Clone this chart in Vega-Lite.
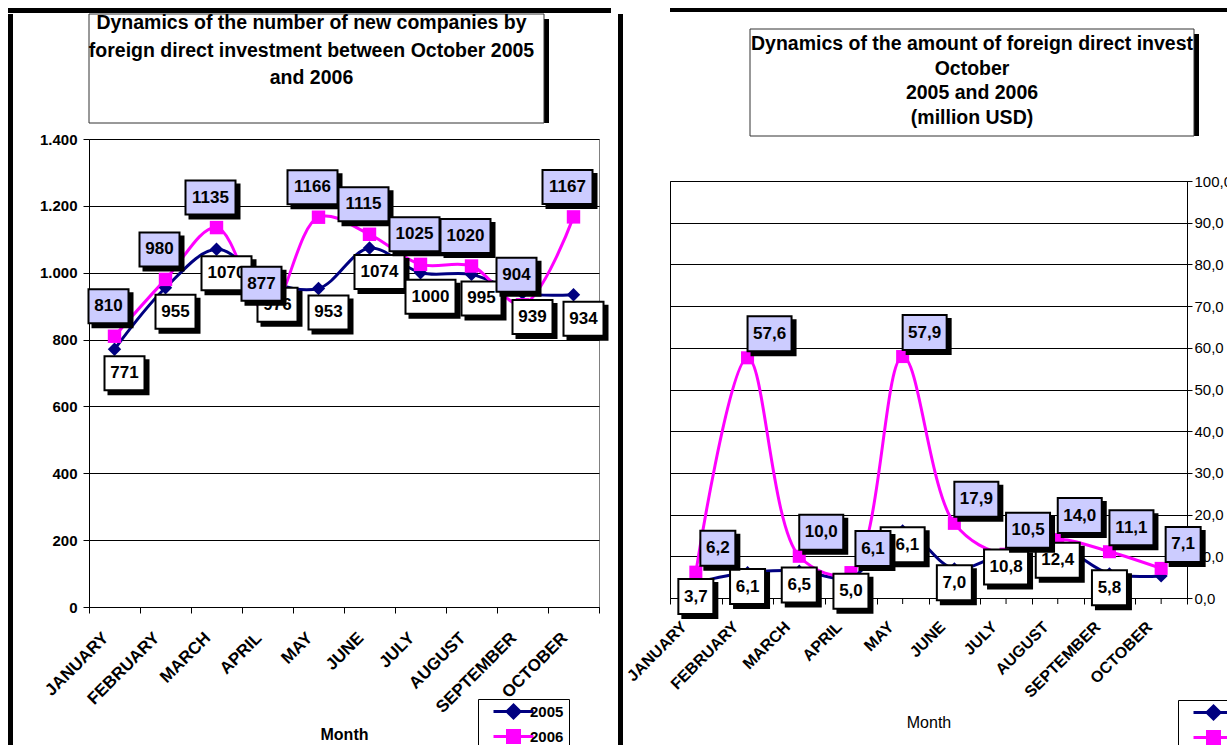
{
  "$schema": "https://vega.github.io/schema/vega-lite/v6.json",
  "padding": {"left": 8, "top": 8, "right": 0, "bottom": 0},
  "background": "white",
  "datasets": {
    "companies": [
      {"month": "JANUARY", "year": "2005", "value": 771},
      {"month": "FEBRUARY", "year": "2005", "value": 955},
      {"month": "MARCH", "year": "2005", "value": 1070},
      {"month": "APRIL", "year": "2005", "value": 976},
      {"month": "MAY", "year": "2005", "value": 953},
      {"month": "JUNE", "year": "2005", "value": 1074},
      {"month": "JULY", "year": "2005", "value": 1000},
      {"month": "AUGUST", "year": "2005", "value": 995},
      {"month": "SEPTEMBER", "year": "2005", "value": 939},
      {"month": "OCTOBER", "year": "2005", "value": 934},
      {"month": "JANUARY", "year": "2006", "value": 810},
      {"month": "FEBRUARY", "year": "2006", "value": 980},
      {"month": "MARCH", "year": "2006", "value": 1135},
      {"month": "APRIL", "year": "2006", "value": 877},
      {"month": "MAY", "year": "2006", "value": 1166},
      {"month": "JUNE", "year": "2006", "value": 1115},
      {"month": "JULY", "year": "2006", "value": 1025},
      {"month": "AUGUST", "year": "2006", "value": 1020},
      {"month": "SEPTEMBER", "year": "2006", "value": 904},
      {"month": "OCTOBER", "year": "2006", "value": 1167}
    ],
    "investment": [
      {"month": "JANUARY", "year": "2005", "value": 3.7},
      {"month": "FEBRUARY", "year": "2005", "value": 6.1},
      {"month": "MARCH", "year": "2005", "value": 6.5},
      {"month": "APRIL", "year": "2005", "value": 5.0},
      {"month": "MAY", "year": "2005", "value": 16.1},
      {"month": "JUNE", "year": "2005", "value": 7.0},
      {"month": "JULY", "year": "2005", "value": 10.8},
      {"month": "AUGUST", "year": "2005", "value": 12.4},
      {"month": "SEPTEMBER", "year": "2005", "value": 5.8},
      {"month": "OCTOBER", "year": "2005", "value": 5.3},
      {"month": "JANUARY", "year": "2006", "value": 6.2},
      {"month": "FEBRUARY", "year": "2006", "value": 57.6},
      {"month": "MARCH", "year": "2006", "value": 10.0},
      {"month": "APRIL", "year": "2006", "value": 6.1},
      {"month": "MAY", "year": "2006", "value": 57.9},
      {"month": "JUNE", "year": "2006", "value": 17.9},
      {"month": "JULY", "year": "2006", "value": 10.5},
      {"month": "AUGUST", "year": "2006", "value": 14.0},
      {"month": "SEPTEMBER", "year": "2006", "value": 11.1},
      {"month": "OCTOBER", "year": "2006", "value": 7.1}
    ]
  },
  "config": {
    "font": "Liberation Sans",
    "view": {"stroke": null},
    "locale": {"number": {"decimal": ",", "thousands": ".", "grouping": [3], "currency": ["", ""]}},
    "axis": {"labelColor": "black", "titleColor": "black", "domainColor": "black", "tickColor": "black", "gridColor": "black", "gridOpacity": 1, "labelFont": "Liberation Sans", "titleFont": "Liberation Sans"},
    "legend": {"labelFont": "Liberation Sans", "labelColor": "black"}
  },
  "spacing": 0,
  "hconcat": [
    {
      "spacing": 0,
      "vconcat": [
        {"width": 603, "height": 5, "data": {"values": [{}]}, "mark": {"type": "rect", "color": "black"}, "encoding": {}},
        {
          "spacing": 25,
          "hconcat": [
            {"width": 5, "height": 740, "data": {"values": [{}]}, "mark": {"type": "rect", "color": "black"}, "encoding": {}},
            {
              "spacing": 6,
              "hconcat": [
                {
                  "spacing": 7,
                  "resolve": {"scale": {"color": "independent"}, "legend": {"color": "independent"}},
                  "vconcat": [
                    {
                      "width": 465, "height": 109,
                      "data": {"values": [{}]},
                      "layer": [
                        {"mark": {"type": "rect", "color": "black", "xOffset": -5, "x2Offset": -5, "yOffset": 5, "y2Offset": 5}, "encoding": {}},
                        {"mark": {"type": "rect", "fill": "white", "stroke": "#333333", "strokeWidth": 1, "xOffset": -10, "x2Offset": -10}, "encoding": {}},
                        {"mark": {"type": "text", "text": ["Dynamics of the number of new companies by", "foreign direct investment between October  2005", "and  2006"], "fontSize": 19.5, "fontWeight": "bold", "lineHeight": 27.5, "dy": -45.5, "xOffset": -10, "align": "center", "baseline": "middle", "color": "black"}, "encoding": {}}
                      ]
                    },
                    {
                      "width": 510, "height": 468,
                      "view": {"stroke": "#808080"},
                      "data": {"name": "companies"},
                      "encoding": {
                        "x": {"field": "month", "type": "ordinal", "sort": ["JANUARY", "FEBRUARY", "MARCH", "APRIL", "MAY", "JUNE", "JULY", "AUGUST", "SEPTEMBER", "OCTOBER"], "scale": {"type": "band", "paddingInner": 0, "paddingOuter": 0},
                          "axis": {"title": "Month", "titleFontSize": 16, "titleFontWeight": "bold", "labelAngle": -45, "labelAlign": "right", "labelBaseline": "middle", "labelFontSize": 17, "labelFontWeight": "bold", "tickBand": "extent", "tickSize": 6, "labelPadding": 22, "labelOffset": -9, "titlePadding": 11, "grid": false}},
                        "y": {"field": "value", "type": "quantitative", "scale": {"domain": [0, 1400]},
                          "axis": {"title": null, "values": [0, 200, 400, 600, 800, 1000, 1200, 1400], "format": ",d", "labelFontSize": 15, "labelFontWeight": "bold", "tickSize": 6, "labelPadding": 6, "grid": true}}
                      },
                      "layer": [
                        {"mark": {"type": "line", "interpolate": "catmull-rom", "strokeWidth": 3},
                          "encoding": {"color": {"field": "year", "type": "nominal", "scale": {"domain": ["2005", "2006"], "range": ["#000080", "#FF00FF"]},
                            "legend": {"orient": "none", "legendX": 389, "legendY": 560, "title": null, "direction": "vertical", "columns": 1, "labelFontSize": 15, "labelFontWeight": "bold", "fillColor": "white", "strokeColor": "black", "padding": 5, "symbolSize": 100, "labelOffset": 32, "rowPadding": 0,
                              "encode": {"symbols": {"update": {
                                "shape": {"signal": "datum.value === '2005' ? 'M0.6,0H8.6M4.6,-1.3L5.9,0L4.6,1.3L3.3,0Z' : 'M0.6,0H8.6M3.4,-1.2H5.8V1.2H3.4Z'"},
                                "fill": {"scale": "color", "field": "value"},
                                "stroke": {"scale": "color", "field": "value"},
                                "strokeWidth": {"value": 3},
                                "opacity": {"value": 1}}}}}}}},
                        {"mark": {"type": "point", "filled": true, "opacity": 1, "size": 180},
                          "encoding": {"color": {"field": "year", "type": "nominal"}, "shape": {"condition": {"test": "datum.year === '2005'", "value": "diamond"}, "value": "square"}}},
                        {"transform": [{"filter": "datum.year === '2005'"}],
                          "mark": {"type": "point", "filled": true, "opacity": 1, "size": 100, "fill": "black", "stroke": "black", "strokeWidth": 2, "xOffset": 14, "yOffset": 28},
                          "encoding": {"shape": {"condition": {"test": "datum.value >= 1000", "value": "M-5,-3.4H5V3.4H-5Z"}, "value": "M-4,-3.4H4V3.4H-4Z"}}},
                        {"transform": [{"filter": "datum.year === '2005'"}],
                          "mark": {"type": "point", "filled": true, "opacity": 1, "size": 100, "fill": "white", "stroke": "black", "strokeWidth": 2, "xOffset": 10, "yOffset": 24},
                          "encoding": {"shape": {"condition": {"test": "datum.value >= 1000", "value": "M-5,-3.4H5V3.4H-5Z"}, "value": "M-4,-3.4H4V3.4H-4Z"}}},
                        {"transform": [{"filter": "datum.year === '2005'"}],
                          "mark": {"type": "text", "fontSize": 17, "fontWeight": "bold", "color": "black", "xOffset": 10, "yOffset": 24, "align": "center", "baseline": "middle"},
                          "encoding": {"text": {"field": "value", "type": "quantitative", "format": "d"}}},
                        {"transform": [{"filter": "datum.year === '2006'"}],
                          "mark": {"type": "point", "filled": true, "opacity": 1, "size": 100, "fill": "black", "stroke": "black", "strokeWidth": 2, "xOffset": -2, "yOffset": -26},
                          "encoding": {"shape": {"condition": {"test": "datum.value >= 1000", "value": "M-5,-3.4H5V3.4H-5Z"}, "value": "M-4,-3.4H4V3.4H-4Z"}}},
                        {"transform": [{"filter": "datum.year === '2006'"}],
                          "mark": {"type": "point", "filled": true, "opacity": 1, "size": 100, "fill": "#CCCCFF", "stroke": "black", "strokeWidth": 2, "xOffset": -6, "yOffset": -30},
                          "encoding": {"shape": {"condition": {"test": "datum.value >= 1000", "value": "M-5,-3.4H5V3.4H-5Z"}, "value": "M-4,-3.4H4V3.4H-4Z"}}},
                        {"transform": [{"filter": "datum.year === '2006'"}],
                          "mark": {"type": "text", "fontSize": 17, "fontWeight": "bold", "color": "black", "xOffset": -6, "yOffset": -30, "align": "center", "baseline": "middle"},
                          "encoding": {"text": {"field": "value", "type": "quantitative", "format": "d"}}}
                      ]
                    }
                  ]
                },
                {"width": 5, "height": 740, "data": {"values": [{}]}, "mark": {"type": "rect", "color": "black"}, "encoding": {}}
              ]
            }
          ]
        }
      ]
    },
    {
      "spacing": 16,
      "vconcat": [
        {"width": 620, "height": 4, "data": {"values": [{}]}, "mark": {"type": "rect", "color": "black"}, "encoding": {}},
        {
          "spacing": 36,
          "resolve": {"scale": {"color": "independent"}, "legend": {"color": "independent"}},
          "vconcat": [
            {
              "spacing": 0,
              "hconcat": [
                {"width": 79, "height": 1, "data": {"values": [{}]}, "mark": {"type": "rect", "color": "white", "opacity": 0}, "encoding": {}},
                {
                  "width": 444, "height": 107,
                  "data": {"values": [{}]},
                  "layer": [
                    {"mark": {"type": "rect", "color": "black", "xOffset": 5, "x2Offset": 5, "yOffset": 5, "y2Offset": 5}, "encoding": {}},
                    {"mark": {"type": "rect", "fill": "white", "stroke": "#333333", "strokeWidth": 1}, "encoding": {}},
                    {"mark": {"type": "text", "text": ["Dynamics of the amount of foreign direct invest", "October", "2005 and  2006", "(million USD)"], "fontSize": 19.5, "fontWeight": "bold", "lineHeight": 24.7, "dy": -38.5, "align": "center", "baseline": "middle", "color": "black"}, "encoding": {}}
                  ]
                }
              ]
            },
            {
              "spacing": 0,
              "hconcat": [
                {
                  "width": 517, "height": 417,
                  "view": {"stroke": "black"},
                  "data": {"name": "investment"},
                  "encoding": {
                    "x": {"field": "month", "type": "ordinal", "sort": ["JANUARY", "FEBRUARY", "MARCH", "APRIL", "MAY", "JUNE", "JULY", "AUGUST", "SEPTEMBER", "OCTOBER"], "scale": {"type": "band", "paddingInner": 0, "paddingOuter": 0},
                      "axis": {"title": "Month", "titleFontSize": 16, "titleFontWeight": "normal", "labelAngle": -45, "labelAlign": "right", "labelBaseline": "middle", "labelFontSize": 16, "labelFontWeight": "bold", "tickBand": "extent", "tickSize": 6, "labelPadding": 20, "labelOffset": -12, "titlePadding": 14, "grid": false}},
                    "y": {"field": "value", "type": "quantitative", "scale": {"domain": [0, 100]},
                      "axis": {"orient": "right", "title": null, "values": [0, 10, 20, 30, 40, 50, 60, 70, 80, 90, 100], "format": ".1f", "labelFontSize": 15, "labelFontWeight": "normal", "tickSize": 5, "labelPadding": 2, "grid": true}}
                  },
                  "layer": [
                    {"transform": [{"filter": "datum.year === '2005'"}],
                      "mark": {"type": "tick", "orient": "vertical", "size": 6, "thickness": 1, "color": "black", "opacity": 1, "yOffset": 3},
                      "encoding": {"y": {"datum": 0}}},
                    {"mark": {"type": "line", "interpolate": "catmull-rom", "strokeWidth": 3},
                      "encoding": {"color": {"field": "year", "type": "nominal", "scale": {"domain": ["2005", "2006"], "range": ["#000080", "#FF00FF"]},
                        "legend": {"orient": "none", "legendX": 508, "legendY": 519, "title": null, "direction": "vertical", "columns": 1, "labelFontSize": 15, "labelFontWeight": "normal", "fillColor": "white", "strokeColor": "black", "padding": 5, "symbolSize": 100, "labelOffset": 32, "rowPadding": 0,
                          "encode": {"symbols": {"update": {
                            "shape": {"signal": "datum.value === '2005' ? 'M0.6,0H8.6M4.6,-1.3L5.9,0L4.6,1.3L3.3,0Z' : 'M0.6,0H8.6M3.4,-1.2H5.8V1.2H3.4Z'"},
                            "fill": {"scale": "color", "field": "value"},
                            "stroke": {"scale": "color", "field": "value"},
                            "strokeWidth": {"value": 3},
                            "opacity": {"value": 1}}}}}}}},
                    {"mark": {"type": "point", "filled": true, "opacity": 1, "size": 170},
                      "encoding": {"color": {"field": "year", "type": "nominal"}, "shape": {"condition": {"test": "datum.year === '2005'", "value": "diamond"}, "value": "square"}}},
                    {"transform": [{"filter": "datum.year === '2005' && datum.month !== 'OCTOBER'"}],
                      "mark": {"type": "point", "filled": true, "opacity": 1, "size": 100, "fill": "black", "stroke": "black", "strokeWidth": 2, "xOffset": 4, "yOffset": 18},
                      "encoding": {"shape": {"condition": {"test": "datum.value >= 10", "value": "M-4.4,-3.5H4.4V3.5H-4.4Z"}, "value": "M-3.5,-3.5H3.5V3.5H-3.5Z"}}},
                    {"transform": [{"filter": "datum.year === '2005' && datum.month !== 'OCTOBER'"}],
                      "mark": {"type": "point", "filled": true, "opacity": 1, "size": 100, "fill": "white", "stroke": "black", "strokeWidth": 2, "xOffset": 0, "yOffset": 14},
                      "encoding": {"shape": {"condition": {"test": "datum.value >= 10", "value": "M-4.4,-3.5H4.4V3.5H-4.4Z"}, "value": "M-3.5,-3.5H3.5V3.5H-3.5Z"}}},
                    {"transform": [{"filter": "datum.year === '2005' && datum.month !== 'OCTOBER'"}],
                      "mark": {"type": "text", "fontSize": 17, "fontWeight": "bold", "color": "black", "xOffset": 0, "yOffset": 14, "align": "center", "baseline": "middle"},
                      "encoding": {"text": {"field": "value", "type": "quantitative", "format": ".1f"}}},
                    {"transform": [{"filter": "datum.year === '2006'"}],
                      "mark": {"type": "point", "filled": true, "opacity": 1, "size": 100, "fill": "black", "stroke": "black", "strokeWidth": 2, "xOffset": 26, "yOffset": -20},
                      "encoding": {"shape": {"condition": {"test": "datum.value >= 10", "value": "M-4.4,-3.5H4.4V3.5H-4.4Z"}, "value": "M-3.5,-3.5H3.5V3.5H-3.5Z"}}},
                    {"transform": [{"filter": "datum.year === '2006'"}],
                      "mark": {"type": "point", "filled": true, "opacity": 1, "size": 100, "fill": "#CCCCFF", "stroke": "black", "strokeWidth": 2, "xOffset": 22, "yOffset": -24},
                      "encoding": {"shape": {"condition": {"test": "datum.value >= 10", "value": "M-4.4,-3.5H4.4V3.5H-4.4Z"}, "value": "M-3.5,-3.5H3.5V3.5H-3.5Z"}}},
                    {"transform": [{"filter": "datum.year === '2006'"}],
                      "mark": {"type": "text", "fontSize": 17, "fontWeight": "bold", "color": "black", "xOffset": 22, "yOffset": -24, "align": "center", "baseline": "middle"},
                      "encoding": {"text": {"field": "value", "type": "quantitative", "format": ".1f"}}}
                  ]
                }
              ]
            }
          ]
        }
      ]
    }
  ]
}
